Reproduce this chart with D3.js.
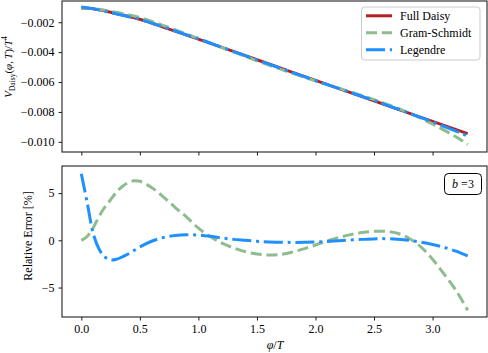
<!DOCTYPE html>
<html><head><meta charset="utf-8">
<script src="https://cdn.jsdelivr.net/npm/d3@7"></script>
<style>
body{margin:0;background:#fff;}
svg{display:block;font-family:"Liberation Serif","DejaVu Serif",serif;}
</style></head><body>
<svg id="c" width="488" height="353"></svg>
<script>
// ---- data ----
const phiTop = [0, 0.1, 0.25, 0.5, 0.75, 1.0, 1.25, 1.5, 1.75, 2.0, 2.25, 2.5, 2.75, 3.0, 3.25, 3.3];
const fullDaisy = [-0.00105, -0.00110, -0.00133, -0.00180, -0.00246, -0.00313, -0.00382, -0.00451, -0.00520, -0.00589, -0.00657, -0.00725, -0.00795, -0.00863, -0.00932, -0.00945];
const gramSchmidtTop = [-0.00105, -0.001086, -0.001273, -0.001688, -0.00236, -0.003089, -0.003841, -0.004575, -0.005273, -0.00592, -0.00654, -0.007181, -0.00791, -0.008803, -0.009907, -0.01018];
const legendreTop = [-0.000976, -0.001091, -0.001358, -0.001813, -0.00245, -0.003113, -0.003813, -0.004515, -0.005211, -0.0059, -0.006571, -0.007239, -0.007944, -0.008669, -0.009449, -0.009606];

const phiGS = [0, 0.05, 0.1, 0.15, 0.2, 0.25, 0.3, 0.35, 0.4, 0.45, 0.5, 0.6, 0.7, 0.8, 0.9, 1.0, 1.1, 1.2, 1.3, 1.4, 1.5, 1.6, 1.7, 1.8, 1.9, 2.0, 2.1, 2.2, 2.3, 2.4, 2.5, 2.6, 2.7, 2.8, 2.9, 3.0, 3.1, 3.2, 3.3];
const errGS = [0, 0.4, 1.3, 2.5, 3.5, 4.3, 5.1, 5.7, 6.1, 6.3, 6.25, 5.6, 4.6, 3.5, 2.45, 1.3, 0.4, -0.3, -0.8, -1.2, -1.45, -1.55, -1.5, -1.25, -0.9, -0.5, -0.05, 0.3, 0.6, 0.82, 0.95, 0.95, 0.75, 0.2, -0.7, -2.0, -3.6, -5.3, -7.4];
const phiL = [0, 0.05, 0.1, 0.15, 0.2, 0.25, 0.3, 0.4, 0.5, 0.6, 0.7, 0.8, 0.9, 1.0, 1.1, 1.2, 1.3, 1.4, 1.5, 1.6, 1.8, 2.0, 2.2, 2.4, 2.55, 2.7, 2.8, 2.9, 3.0, 3.1, 3.2, 3.3];
const errL = [7.05, 4.0, 0.8, -0.9, -1.75, -2.08, -2.0, -1.45, -0.7, -0.1, 0.3, 0.52, 0.6, 0.55, 0.42, 0.25, 0.1, 0.0, -0.1, -0.17, -0.22, -0.18, -0.05, 0.1, 0.18, 0.12, 0.0, -0.2, -0.45, -0.75, -1.15, -1.65];

const xTicks = [0.0, 0.5, 1.0, 1.5, 2.0, 2.5, 3.0];
const yTopTicks = [-0.002, -0.004, -0.006, -0.008, -0.010];
const yBotTicks = [-5, 0, 5];
const seriesNames = ["Full Daisy", "Gram-Schmidt", "Legendre"];
const colors = ["#b22222", "#8fbc8f", "#1e90ff"];
const dashes = [null, "11,4.8", "19,4.8,3,4.8"];

// ---- layout ----
const svg = d3.select("#c");
const L = 62, R = 487;
const top1 = 1, bot1 = 152, top2 = 166, bot2 = 317;
const x = d3.scaleLinear().domain([-0.165, 3.465]).range([L, R]);
const yT = d3.scaleLinear().domain([-0.01068, -0.00058]).range([bot1, top1]);
const yB = d3.scaleLinear().domain([-8.12, 7.87]).range([bot2, top2]);
const fs = 12;
const minus = s => s.replace("-", "\u2212");

// clip paths
const defs = svg.append("defs");
defs.append("clipPath").attr("id","cp1").append("rect").attr("x",L).attr("y",top1).attr("width",R-L).attr("height",bot1-top1);
defs.append("clipPath").attr("id","cp2").append("rect").attr("x",L).attr("y",top2).attr("width",R-L).attr("height",bot2-top2);

function styleAxis(g){
  g.select(".domain").remove();
  g.selectAll(".tick line").attr("stroke","#000").attr("stroke-width",0.9);
  g.selectAll(".tick text").attr("font-family","Liberation Serif, serif").attr("font-size",fs).attr("fill","#000");
}

// top axes
const gx1 = svg.append("g").attr("transform",`translate(0,${bot1})`)
  .call(d3.axisBottom(x).tickValues(xTicks).tickSize(3.5).tickFormat(""));
styleAxis(gx1);
const gy1 = svg.append("g").attr("transform",`translate(${L},0)`)
  .call(d3.axisLeft(yT).tickValues(yTopTicks).tickSize(3.5).tickPadding(4).tickFormat(d=>minus(d3.format(".3f")(d))));
styleAxis(gy1);

// bottom axes
const gx2 = svg.append("g").attr("transform",`translate(0,${bot2})`)
  .call(d3.axisBottom(x).tickValues(xTicks).tickSize(3.5).tickPadding(4).tickFormat(d3.format(".1f")));
styleAxis(gx2);
const gy2 = svg.append("g").attr("transform",`translate(${L},0)`)
  .call(d3.axisLeft(yB).tickValues(yBotTicks).tickSize(3.5).tickPadding(4).tickFormat(d=>minus(String(d))));
styleAxis(gy2);

// lines
const lineTop = d3.line().x(d=>x(d[0])).y(d=>yT(d[1])).curve(d3.curveCatmullRom);
const lineBot = d3.line().x(d=>x(d[0])).y(d=>yB(d[1])).curve(d3.curveCatmullRom);
const topSeries = [fullDaisy, gramSchmidtTop, legendreTop];
const gT = svg.append("g").attr("clip-path","url(#cp1)");
topSeries.forEach((s,i)=>{
  gT.append("path").attr("d", lineTop(phiTop.map((p,j)=>[p,s[j]])))
    .attr("fill","none").attr("stroke",colors[i]).attr("stroke-width",3)
    .attr("stroke-dasharray",dashes[i]);
});
const gB = svg.append("g").attr("clip-path","url(#cp2)");
gB.append("path").attr("d", lineBot(phiGS.map((p,j)=>[p,errGS[j]])))
  .attr("fill","none").attr("stroke",colors[1]).attr("stroke-width",3).attr("stroke-dasharray",dashes[1]);
gB.append("path").attr("d", lineBot(phiL.map((p,j)=>[p,errL[j]])))
  .attr("fill","none").attr("stroke",colors[2]).attr("stroke-width",3).attr("stroke-dasharray",dashes[2]);

// frames
[[top1,bot1],[top2,bot2]].forEach(([t,b])=>{
  svg.append("rect").attr("x",L).attr("y",t).attr("width",R-L).attr("height",b-t)
    .attr("fill","none").attr("stroke","#222").attr("stroke-width",1.1);
});

// legend
const lg = svg.append("g");
lg.append("rect").attr("x",361.5).attr("y",7).attr("width",118.5).attr("height",53).attr("rx",3)
  .attr("fill","#fff").attr("fill-opacity",0.8).attr("stroke","#cccccc").attr("stroke-width",1);
seriesNames.forEach((n,i)=>{
  const yy = 15.8 + i*17;
  lg.append("line").attr("x1",366).attr("x2",392).attr("y1",yy).attr("y2",yy)
    .attr("stroke",colors[i]).attr("stroke-width",3).attr("stroke-dasharray",dashes[i]);
  lg.append("text").attr("x",400).attr("y",yy+4).attr("font-size",fs).text(n);
});

// b=3 box
svg.append("rect").attr("x",444.5).attr("y",173.5).attr("width",37).attr("height",21).attr("rx",4)
  .attr("fill","#fff").attr("stroke","#000").attr("stroke-width",1);
const bt = svg.append("text").attr("x",463).attr("y",188).attr("text-anchor","middle").attr("font-size",fs);
bt.append("tspan").attr("font-style","italic").text("b");
bt.append("tspan").text(" =3");

// y labels
const yl1 = svg.append("text").attr("transform","translate(12,67) rotate(-90)").attr("text-anchor","middle").attr("font-size",11);
yl1.append("tspan").attr("font-style","italic").text("V");
yl1.append("tspan").attr("font-size",7.5).attr("dy",2.5).text("Daisy");
yl1.append("tspan").attr("dy",-2.5).text("(");
yl1.append("tspan").attr("font-style","italic").text("φ");
yl1.append("tspan").text(",\u2009");
yl1.append("tspan").attr("font-style","italic").text("T");
yl1.append("tspan").text(")/");
yl1.append("tspan").attr("font-style","italic").text("T");
yl1.append("tspan").attr("font-size",7.5).attr("dy",-5).text("4");

svg.append("text").attr("transform","translate(32,236) rotate(-90)").attr("text-anchor","middle")
  .attr("font-size",fs).text("Relative Error [%]");

const xl = svg.append("text").attr("x",275).attr("y",349).attr("text-anchor","middle").attr("font-size",fs);
xl.append("tspan").attr("font-style","italic").text("φ");
xl.append("tspan").text("/");
xl.append("tspan").attr("font-style","italic").text("T");
</script></body></html>
